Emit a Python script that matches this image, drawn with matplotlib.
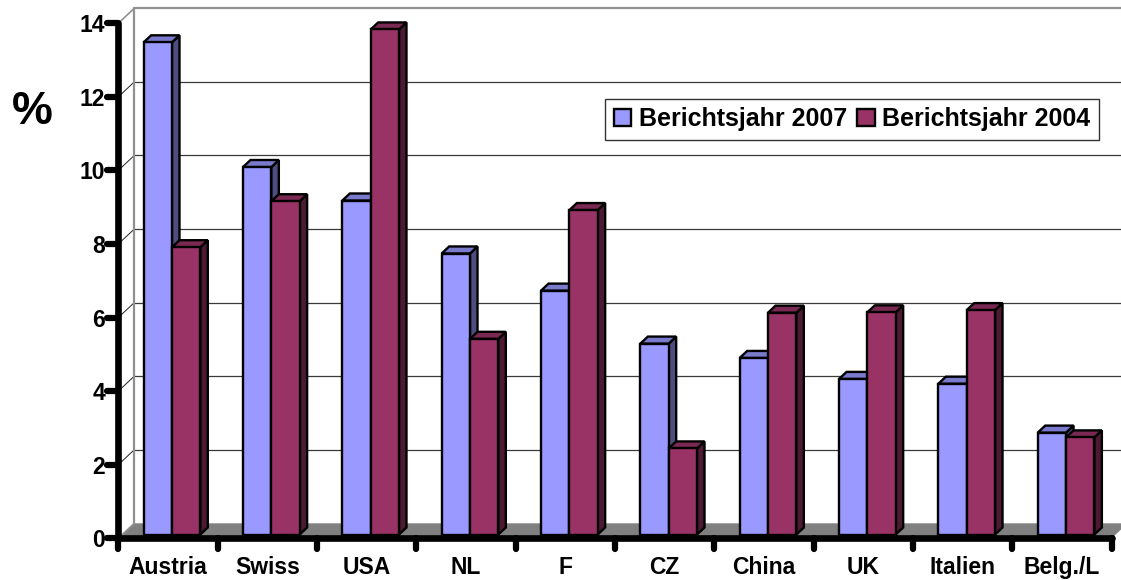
import matplotlib
matplotlib.use("Agg")
import matplotlib.pyplot as plt
from matplotlib.patches import Polygon, Patch
from matplotlib.markers import MarkerStyle

plt.rcParams['font.family'] = ['Liberation Sans', 'DejaVu Sans']
plt.rcParams['font.weight'] = 'bold'

# Data
categories = ["Austria", "Swiss", "USA", "NL", "F", "CZ", "China", "UK", "Italien", "Belg./L"]
series_names = ["Berichtsjahr 2007", "Berichtsjahr 2004"]
values_2007 = [13.38, 9.99, 9.08, 7.64, 6.63, 5.19, 4.80, 4.23, 4.10, 2.77]
values_2004 = [7.81, 9.06, 13.73, 5.32, 8.82, 2.34, 6.03, 6.04, 6.10, 2.64]
y_ticks = [0, 2, 4, 6, 8, 10, 12, 14]

# Colours: front, top and side faces for each series
front_colors = ["#9999FF", "#993366"]
top_colors = ["#7A7ACC", "#7A2952"]
side_colors = ["#4D4D80", "#4D1A33"]

W, H = 1121, 580
fig = plt.figure(figsize=(W / 100, H / 100), dpi=100)

# Front plane of the 3-D box in pixels
x0_px, x1_px = 118.3, 1111.7
y0_px, y14_px = 538.3, 23.3
ax = fig.add_axes([x0_px / W, 1 - y0_px / H, (x1_px - x0_px) / W, (y0_px - y14_px) / H])
ax.set_xlim(0, len(categories))
ax.set_ylim(0, 14)
ax.patch.set_alpha(0)

# Depth offsets (one full unit of depth) in data units
px_x = (x1_px - x0_px) / len(categories)
px_y = (y0_px - y14_px) / 14
DX = 16 / px_x
DY = 15 / px_y


def pt(x, y, d):
    return (x + d * DX, y + d * DY)


ncat = len(categories)
ymax = 14

# Floor
floor = Polygon([pt(0, 0, 0), pt(ncat, 0, 0), pt(ncat, 0, 1), pt(0, 0, 1)],
                closed=True, facecolor="#808080", edgecolor="none", zorder=1, clip_on=False)
ax.add_patch(floor)

# Back wall gridlines and side-wall connectors
for v in y_ticks[1:-1]:
    ax.plot([pt(0, v, 1)[0], pt(ncat, v, 1)[0]], [pt(0, v, 1)[1], pt(ncat, v, 1)[1]],
            color="#3a3a3a", lw=0.9, zorder=1, clip_on=False)
    ax.plot([0, pt(0, v, 1)[0]], [v, pt(0, v, 1)[1]], color="#222222", lw=0.7,
            zorder=1, clip_on=False)

# Wall edges
ax.plot([pt(0, 0, 1)[0], pt(0, ymax, 1)[0], pt(ncat, ymax, 1)[0]],
        [pt(0, 0, 1)[1], pt(0, ymax, 1)[1], pt(ncat, ymax, 1)[1]],
        color="#909090", lw=1.6, zorder=1, clip_on=False)
ax.plot([0, pt(0, ymax, 1)[0]], [ymax, pt(0, ymax, 1)[1]], color="#909090", lw=1.2,
        zorder=1, clip_on=False)
ax.plot([0, pt(0, 0, 1)[0]], [0, pt(0, 0, 1)[1]], color="#909090", lw=1.2,
        zorder=1, clip_on=False)

# Bars
bar_w = 0.285
d0, d1 = 0.25, 0.72
z = 3
for i in range(ncat):
    for s, vals in enumerate([values_2007, values_2004]):
        v = vals[i]
        xl = i + 0.5 - bar_w + s * bar_w
        xr = xl + bar_w
        front = [pt(xl, 0, d0), pt(xr, 0, d0), pt(xr, v, d0), pt(xl, v, d0)]
        top = [pt(xl, v, d0), pt(xr, v, d0), pt(xr, v, d1), pt(xl, v, d1)]
        side = [pt(xr, 0, d0), pt(xr, v, d0), pt(xr, v, d1), pt(xr, 0, d1)]
        for poly, col in ((side, side_colors[s]), (top, top_colors[s]), (front, front_colors[s])):
            ax.add_patch(Polygon(poly, closed=True, facecolor=col, edgecolor="black",
                                 lw=1.7, joinstyle="miter", zorder=z, clip_on=False))
        z += 1

# Axes styling
for side in ("top", "right"):
    ax.spines[side].set_visible(False)
for side in ("left", "bottom"):
    ax.spines[side].set_linewidth(4.8)
    ax.spines[side].set_capstyle("round")
    ax.spines[side].set_zorder(50)

ax.set_yticks(y_ticks)
ax.set_yticklabels([str(t) for t in y_ticks])
ax.tick_params(axis="y", direction="out", length=8, width=4.5, pad=1.5, labelsize=16.5)

ax.set_xticks(range(ncat + 1))
ax.set_xticklabels([])
ax.set_xticks([i + 0.5 for i in range(ncat)], minor=True)
ax.set_xticklabels(categories, minor=True)
ax.tick_params(axis="x", which="major", direction="out", length=8, width=4.5)
ax.tick_params(axis="x", which="minor", length=0, pad=13, labelsize=16.5)

# Rounded tick ends
for tick in ax.yaxis.get_major_ticks():
    tick.tick1line.set_marker(MarkerStyle(tick.tick1line.get_marker(), capstyle="round"))
for tick in ax.xaxis.get_major_ticks():
    tick.tick1line.set_marker(MarkerStyle(tick.tick1line.get_marker(), capstyle="round"))

for lbl in ax.get_yticklabels() + ax.get_xticklabels(minor=True):
    lbl.set_fontweight("bold")

fig.text(32 / W, 1 - 112 / H, "%", fontsize=33, fontweight="bold", ha="center", va="center")

# Legend
handles = [Patch(facecolor=front_colors[k], edgecolor="black", lw=1.7) for k in range(2)]
leg = fig.legend(handles, series_names, loc="upper left",
                 bbox_to_anchor=(605 / W, 1 - 98.5 / H), bbox_transform=fig.transFigure,
                 ncol=2, fontsize=18, frameon=True, fancybox=False, shadow=False,
                 handlelength=0.7, handleheight=0.7, handletextpad=0.3,
                 columnspacing=0.4, borderpad=0.35, borderaxespad=0)
leg.get_frame().set_edgecolor("black")
leg.get_frame().set_linewidth(1.0)
for t in leg.get_texts():
    t.set_fontweight("bold")

fig.savefig("out.png", dpi=100)
